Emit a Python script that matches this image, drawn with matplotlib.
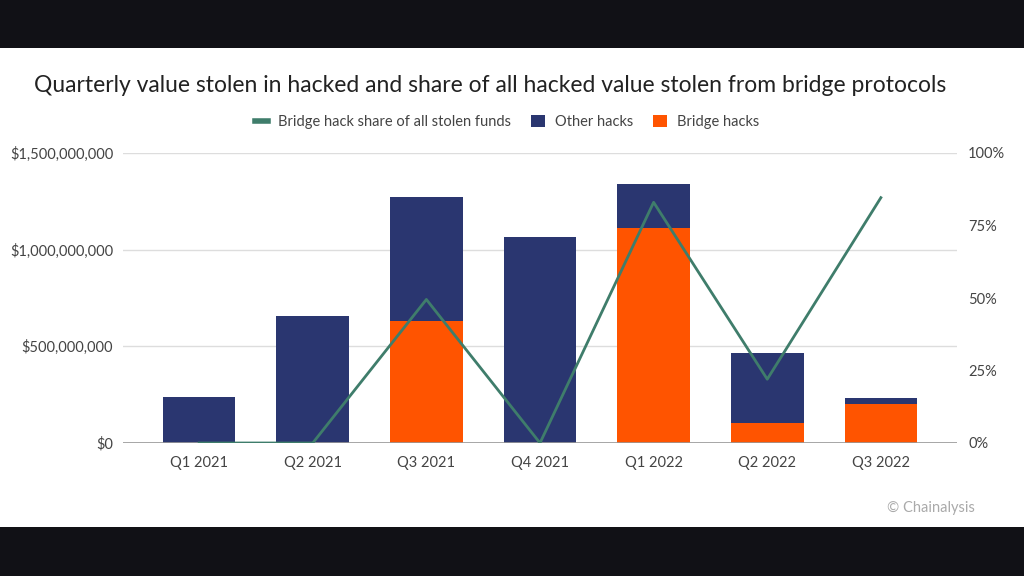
import numpy as np
import matplotlib.pyplot as plt
from matplotlib.patches import Rectangle, Patch
from matplotlib.lines import Line2D
from matplotlib.ticker import FuncFormatter

quarters = ["Q1 2021", "Q2 2021", "Q3 2021", "Q4 2021", "Q1 2022", "Q2 2022", "Q3 2022"]
# values in USD
bridge_hacks = [0, 0, 631e6, 0, 1112e6, 102e6, 202e6]
other_hacks = [238e6, 657e6, 642e6, 1066e6, 228e6, 362e6, 32e6]
# share of all stolen funds (%)
bridge_share = [0, 0, 49.5, 0, 83, 22, 84.6]

navy = "#2a3670"
orange = "#ff5400"
green = "#3f7d6b"
txt = "#444444"

plt.rcParams['font.family'] = ['Lato', 'DejaVu Sans']

fig = plt.figure(figsize=(10.24, 5.76), dpi=100)
fig.patch.set_facecolor("#111116")
fig.patches.append(Rectangle((0, 49/576), 1, (527-48)/576, transform=fig.transFigure,
                             facecolor="white", edgecolor="none", zorder=-5))

ax = fig.add_axes([123/1024, 133/576, 834/1024, 290/576])
ax.set_facecolor("none")
x = np.arange(len(quarters))
w = 0.64
ax.bar(x, bridge_hacks, w, color=orange, zorder=2)
ax.bar(x, other_hacks, w, bottom=bridge_hacks, color=navy, zorder=2)

ax.set_xlim(-0.67, 6.67)
ax.set_ylim(0, 1.5e9)
ax.set_yticks([0, 5e8, 1e9, 1.5e9])
ax.yaxis.set_major_formatter(FuncFormatter(lambda v, p: "${:,.0f}".format(v)))
ax.set_xticks(x)
ax.set_xticklabels(quarters)
ax.grid(axis="y", color="#dddddd", linewidth=1, zorder=0)
ax.axhline(0, color="#999999", linewidth=1.2, zorder=3)
for s in ax.spines.values():
    s.set_visible(False)
ax.tick_params(length=0, colors=txt, labelsize=10.5)
ax.tick_params(axis="x", pad=9)
ax.tick_params(axis="y", pad=7)

ax2 = ax.twinx()
ax2.plot(x, bridge_share, color=green, linewidth=2, zorder=4)
ax2.set_ylim(0, 100)
ax2.set_yticks([0, 25, 50, 75, 100])
ax2.yaxis.set_major_formatter(FuncFormatter(lambda v, p: "{:.0f}%".format(v)))
for s in ax2.spines.values():
    s.set_visible(False)
ax2.tick_params(length=0, colors=txt, labelsize=10.5, pad=8)

fig.text(0.479, (576-86)/576, "Quarterly value stolen in hacked and share of all hacked value stolen from bridge protocols",
         ha="center", va="center", fontsize=16.5, color="#222222")

handles = [Line2D([0], [0], color=green, linewidth=4),
           Patch(facecolor=navy), Patch(facecolor=orange)]
labels = ["Bridge hack share of all stolen funds", "Other hacks", "Bridge hacks"]
fig.legend(handles, labels, ncol=3, loc="center", bbox_to_anchor=(0.495, (576-122)/576),
           frameon=False, fontsize=10.5, labelcolor=txt, handlelength=0.9, handleheight=0.9,
           columnspacing=1.4, handletextpad=0.7)

fig.text(0.952, (576-508)/576, "© Chainalysis", ha="right", va="center", fontsize=10.5, color="#aaaaaa")

fig.savefig("out.png", dpi=100, facecolor=fig.get_facecolor())
